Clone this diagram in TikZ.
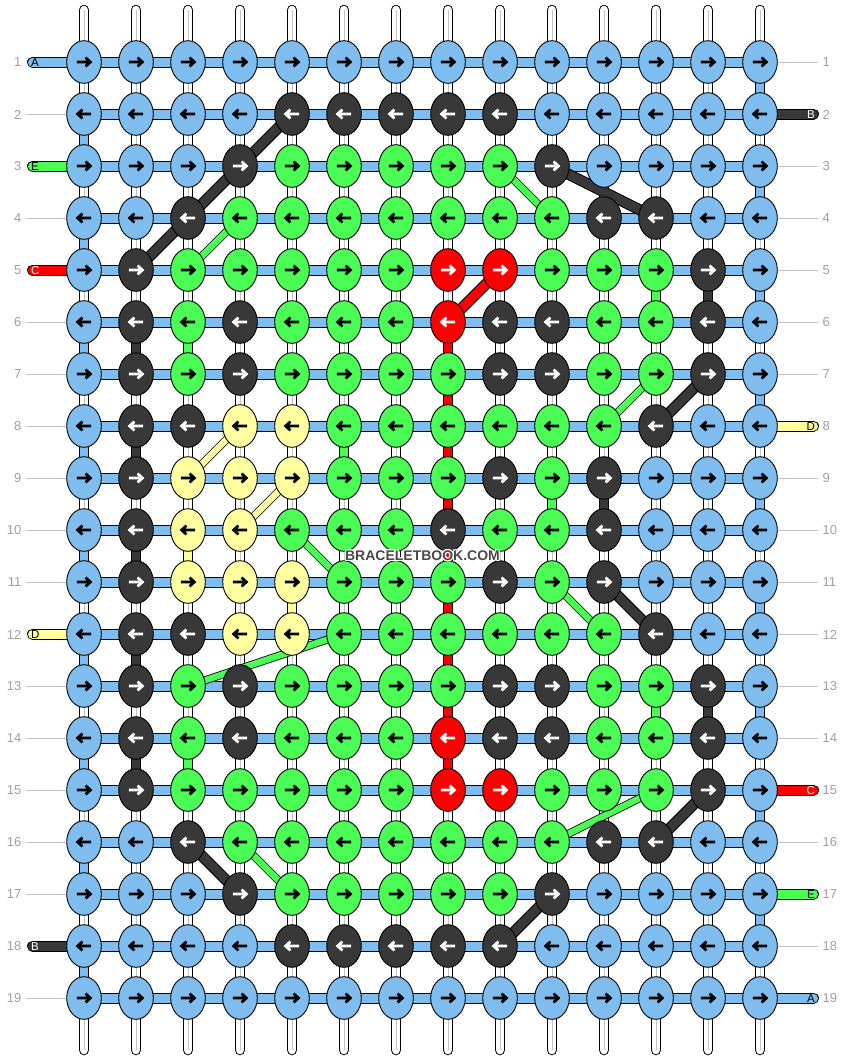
\documentclass[tikz,border=0pt]{standalone}
\usepackage{fontspec}
\setmainfont{Liberation Sans}
\usetikzlibrary{shapes.geometric,backgrounds}
\definecolor{cb}{HTML}{80BDEF}
\definecolor{ck}{HTML}{383838}
\definecolor{cg}{HTML}{4BFC54}
\definecolor{cr}{HTML}{FF0000}
\definecolor{cy}{HTML}{FFFFA0}
\definecolor{ab}{HTML}{000000}
\definecolor{ag}{HTML}{000000}
\definecolor{ay}{HTML}{000000}
\definecolor{ak}{HTML}{FFFFFF}
\definecolor{ar}{HTML}{FFFFFF}
\definecolor{strgray}{HTML}{C4C4C4}
\definecolor{numgray}{HTML}{A0A0A0}
\definecolor{wmgray}{HTML}{4A4A4A}
\tikzset{
  knot/.style={ellipse, draw=black, line width=0.9pt, minimum width=34.6pt, minimum height=42.6pt, inner sep=0pt},
  arrowline/.style={line width=2.7pt, line cap=butt, line join=miter},
  hconn/.style={draw=black, line width=1pt, double=cb, double distance=9pt},
  vconn/.style={draw=black, line width=1pt, double distance=8.5pt},
  wstring/.style={draw=black, line width=1pt, double=white, double distance=8.5pt},
  midline/.style={draw=strgray, line width=1pt},
  diagk/.style={draw=black, line width=1pt, double distance=9pt},
  diagg/.style={draw=black, line width=0.8pt, double distance=6.4pt},
  sidebar/.style={draw=black, line width=1pt, double distance=9pt, line cap=round},
  grayline/.style={draw=strgray, line width=1pt},
  rownum/.style={text=numgray, font=\fontsize{13}{13}\selectfont, inner sep=0pt},
  strlabel/.style={font=\fontsize{11.5}{11.5}\selectfont, inner sep=0pt},
  wmark/.style={font=\bfseries\fontsize{14}{14}\selectfont, inner sep=0pt},
}
\begin{document}
\begin{tikzpicture}[x=1pt,y=-1pt]
\useasboundingbox (0,0) rectangle (844,1060);
% knots
\foreach \r/\row in {
 1/{b,b,b,b,b,b,b,b,b,b,b,b,b,b},
 2/{b,b,b,b,k,k,k,k,k,b,b,b,b,b},
 3/{b,b,b,k,g,g,g,g,g,k,b,b,b,b},
 4/{b,b,k,g,g,g,g,g,g,g,k,k,b,b},
 5/{b,k,g,g,g,g,g,r,r,g,g,g,k,b},
 6/{b,k,g,k,g,g,g,r,k,k,g,g,k,b},
 7/{b,k,g,k,g,g,g,g,k,k,g,g,k,b},
 8/{b,k,k,y,y,g,g,g,g,g,g,k,b,b},
 9/{b,k,y,y,y,g,g,g,k,g,k,b,b,b},
 10/{b,k,y,y,g,g,g,k,g,g,k,b,b,b},
 11/{b,k,y,y,y,g,g,g,k,g,k,b,b,b},
 12/{b,k,k,y,y,g,g,g,g,g,g,k,b,b},
 13/{b,k,g,k,g,g,g,g,k,k,g,g,k,b},
 14/{b,k,g,k,g,g,g,r,k,k,g,g,k,b},
 15/{b,k,g,g,g,g,g,r,r,g,g,g,k,b},
 16/{b,b,k,g,g,g,g,g,g,g,k,k,b,b},
 17/{b,b,b,k,g,g,g,g,g,k,b,b,b,b},
 18/{b,b,b,b,k,k,k,k,k,b,b,b,b,b},
 19/{b,b,b,b,b,b,b,b,b,b,b,b,b,b}}{
  \pgfmathsetmacro\dir{ifthenelse(mod(\r,2)==1,1,-1)}
  \foreach \col [count=\c] in \row {
    \node[knot, fill=c\col] (k-\r-\c) at ({84+52*(\c-1)}, {62+52*(\r-1)}) {};
    \draw[arrowline, draw=a\col, shift={(k-\r-\c.center)}, xscale=\dir]
      (-7.2,0) -- (6.2,0) (1.6,-4.4) -- (6.4,0) -- (1.6,4.4);
  }
}
% row coordinates, numbers
\foreach \r in {1,...,19}{
  \coordinate (GL-\r) at (26,{62+52*(\r-1)});
  \coordinate (GR-\r) at (818,{62+52*(\r-1)});
  \coordinate (SL-\r) at (32.5,{62+52*(\r-1)});
  \coordinate (SR-\r) at (813.5,{62+52*(\r-1)});
  \node[rownum, anchor=east] (nl-\r) at (21.5,{62.5+52*(\r-1)}) {\r};
  \node[rownum, anchor=west] (nr-\r) at (822.5,{62.5+52*(\r-1)}) {\r};
}
\foreach \c in {1,...,14}{
  \coordinate (T-\c) at ({84+52*(\c-1)},10);
  \coordinate (U-\c) at ({84+52*(\c-1)},1050);
}
\begin{pgfonlayer}{background}
\fill[white] (0,0) rectangle (844,1060);
% top and bottom string ends
\foreach \c in {1,...,14}{
  \draw[wstring, line cap=round] (T-\c) -- (k-1-\c.center);
  \draw[midline] (T-\c) -- (k-1-\c.center);
  \draw[wstring, line cap=round] (U-\c) -- (k-19-\c.center);
  \draw[midline] (U-\c) -- (k-19-\c.center);
}
% horizontal connectors
\foreach \r in {1,...,19}{
  \foreach \c [evaluate=\c as \cn using int(\c+1)] in {1,...,13}{
    \draw[hconn] (k-\r-\c.center) -- (k-\r-\cn.center);
  }
}
% vertical connectors (white strings)
\foreach \r [evaluate=\r as \rn using int(\r+1)] in {1,...,18}{
  \foreach \c in {1,...,14}{
    \draw[wstring] (k-\r-\c.center) -- (k-\rn-\c.center);
    \draw[midline] (k-\r-\c.center) -- (k-\rn-\c.center);
  }
}
% turns of the blue string
\foreach \r [evaluate=\r as \rn using int(\r+1)] in {1,3,...,17}{
  \draw[vconn, double=cb] (k-\r-14.center) -- (k-\rn-14.center);
}
\foreach \r [evaluate=\r as \rn using int(\r+1)] in {2,4,...,18}{
  \draw[vconn, double=cb] (k-\r-1.center) -- (k-\rn-1.center);
}
% coloured vertical connectors
\foreach \r/\c/\clr [evaluate=\r as \rn using int(\r+1)] in {
  5/12/cg, 5/13/ck, 6/2/ck, 6/3/cg, 6/8/cr, 7/8/cr, 8/2/ck, 8/6/cg, 8/8/cr,
  9/8/cr, 9/10/cg, 9/11/ck, 10/2/ck, 10/3/cy, 10/8/cr, 11/5/cy, 11/8/cr,
  12/2/ck, 12/8/cr, 13/8/cr, 13/12/cg, 13/13/ck, 14/2/ck, 14/3/cg, 14/8/cr}{
  \draw[vconn, double=\clr] (k-\r-\c.center) -- (k-\rn-\c.center);
}
% diagonal connectors
\draw[diagk, double=ck] (k-2-5.center) -- (k-3-4.center) -- (k-4-3.center) -- (k-5-2.center);
\draw[diagg, double=cg] (k-3-9.center) -- (k-4-10.center);
\draw[diagk, double=ck] (k-3-10.center) -- (k-4-12.center);
\draw[diagg, double=cg] (k-4-4.center) -- (k-5-3.center);
\draw[diagk, double=cr] (k-5-9.center) -- (k-6-8.center);
\draw[diagg, double=cg] (k-7-12.center) -- (k-8-11.center);
\draw[diagk, double=ck] (k-7-13.center) -- (k-8-12.center);
\draw[diagg, double=cy] (k-8-4.center) -- (k-9-3.center);
\draw[diagg, double=cy] (k-9-5.center) -- (k-10-4.center);
\draw[diagg, double=cg] (k-10-5.center) -- (k-11-6.center);
\draw[diagg, double=cg] (k-11-10.center) -- (k-12-11.center);
\draw[diagk, double=ck] (k-11-11.center) -- (k-12-12.center);
\draw[diagg, double=cg] (k-12-6.center) -- (k-13-3.center);
\draw[diagk, double=ck] (k-15-13.center) -- (k-16-12.center);
\draw[diagg, double=cg] (k-15-12.center) -- (k-16-10.center);
\draw[diagk, double=ck] (k-16-3.center) -- (k-17-4.center);
\draw[diagg, double=cg] (k-16-4.center) -- (k-17-5.center);
\draw[diagk, double=ck] (k-17-10.center) -- (k-18-9.center);
% side lines
\foreach \r in {2,4,6,7,8,9,10,11,13,14,15,16,17,19}{
  \draw[grayline] (GL-\r) -- (k-\r-1.west);
}
\foreach \r in {1,3,4,5,6,7,9,10,11,12,13,14,16,18}{
  \draw[grayline] (GR-\r) -- (k-\r-14.east);
}
\foreach \r/\clr in {1/cb,3/cg,5/cr,12/cy,18/ck}{
  \draw[sidebar, double=\clr] (SL-\r) -- (k-\r-1.center);
}
\foreach \r/\clr in {2/ck,8/cy,15/cr,17/cg,19/cb}{
  \draw[sidebar, double=\clr] (SR-\r) -- (k-\r-14.center);
}
\end{pgfonlayer}
% string letters
\foreach \r/\lab/\tc in {1/A/black,3/E/black,5/C/white,12/D/black,18/B/white}{
  \node[strlabel, text=\tc, anchor=west] (ll-\r) at (31,{62.5+52*(\r-1)}) {\lab};
}
\foreach \r/\lab/\tc in {2/B/white,8/D/black,15/C/white,17/E/black,19/A/black}{
  \node[strlabel, text=\tc, anchor=east] (lr-\r) at (815,{62.5+52*(\r-1)}) {\lab};
}
% watermark
\foreach \dx/\dy [count=\i] in {-1/0,1/0,0/-1,0/1,-1/-1,1/1,-1/1,1/-1}{
  \node[wmark, text=white] (wmh-\i) at (422.5+\dx,555.5+\dy) {BRACELETBOOK.COM};
}
\node[wmark, text=wmgray] (wm) at (422.5,555.5) {BRACELETBOOK.COM};
\end{tikzpicture}
\end{document}
